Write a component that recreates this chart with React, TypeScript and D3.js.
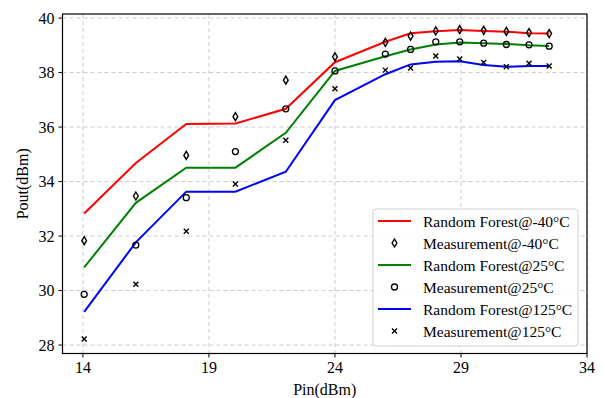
import * as d3 from 'd3';

const pin = [14.05, 16.1, 18.1, 20.05, 22.05, 24, 26, 27, 28, 28.95, 29.9, 30.8, 31.7, 32.5];

const rfM40 = [32.83, 34.68, 36.11, 36.13, 36.67, 38.38, 39.13, 39.44, 39.52, 39.56, 39.53, 39.5, 39.44, 39.43];
const rf25 = [30.85, 33.22, 34.51, 34.51, 35.79, 38.06, 38.6, 38.85, 39.03, 39.1, 39.08, 39.05, 39.0, 38.98];
const rf125 = [29.22, 31.77, 33.63, 33.63, 34.36, 36.99, 37.94, 38.3, 38.4, 38.42, 38.28, 38.21, 38.24, 38.24];

const measM40 = [31.83, 33.47, 34.96, 36.38, 37.72, 38.58, 39.11, 39.34, 39.53, 39.58, 39.55, 39.51, 39.47, 39.43];
const meas25 = [29.86, 31.67, 33.41, 35.1, 36.67, 38.06, 38.68, 38.85, 39.13, 39.13, 39.08, 39.03, 39.02, 38.97];
const meas125 = [28.22, 30.23, 32.18, 33.91, 35.52, 37.41, 38.09, 38.17, 38.61, 38.5, 38.37, 38.21, 38.34, 38.24];

const xTicks = [14, 19, 24, 29, 34];
const yTicks = [28, 30, 32, 34, 36, 38, 40];

const legendLabels = [
  'Random Forest@-40\u00B0C',
  'Measurement@-40\u00B0C',
  'Random Forest@25\u00B0C',
  'Measurement@25\u00B0C',
  'Random Forest@125\u00B0C',
  'Measurement@125\u00B0C',
];

const font = '"Liberation Serif", "Times New Roman", serif';

function Marker({ kind, x, y }: { kind: string; x: number; y: number }) {
  if (kind === 'diamond') {
    return (
      <path
        d={`M${x},${y - 4}L${x + 2.4},${y}L${x},${y + 4}L${x - 2.4},${y}Z`}
        fill="none"
        stroke="#000"
        strokeWidth={1.4}
      />
    );
  }
  if (kind === 'circle') {
    return <circle cx={x} cy={y} r={3} fill="none" stroke="#000" strokeWidth={1.3} />;
  }
  return (
    <path
      d={`M${x - 2.5},${y - 2.5}L${x + 2.5},${y + 2.5}M${x - 2.5},${y + 2.5}L${x + 2.5},${y - 2.5}`}
      stroke="#000"
      strokeWidth={1.4}
    />
  );
}

export default function App() {
  const width = 604;
  const height = 398;
  const left = 62.5;
  const right = 587;
  const top = 14;
  const bottom = 353.5;

  const x = d3.scaleLinear().domain([13.19, 34]).range([left, right]);
  const y = d3.scaleLinear().domain([27.69, 40.15]).range([bottom, top]);

  const line = d3
    .line<number>()
    .x((_, i) => x(pin[i]))
    .y((d) => y(d));

  const lines = [
    { vals: rfM40, color: '#ff0000' },
    { vals: rf25, color: '#008000' },
    { vals: rf125, color: '#0000ff' },
  ];
  const meas = [
    { vals: measM40, kind: 'diamond' },
    { vals: meas25, kind: 'circle' },
    { vals: meas125, kind: 'x' },
  ];

  const legendX = 373;
  const legendY = 209;
  const legendW = 205;
  const legendH = 137;
  const rowH = 22;

  return (
    <svg
      width={width}
      height={height}
      style={{ position: 'absolute', left: 0, top: 0, background: '#fff' }}
      fontFamily={font}
    >
      <rect x={0} y={0} width={width} height={height} fill="#fff" />

      {/* grid */}
      {xTicks.map((t) => (
        <line
          key={'gx' + t}
          x1={x(t)}
          x2={x(t)}
          y1={top}
          y2={bottom}
          stroke="#cccccc"
          strokeWidth={1}
          strokeDasharray="4,3"
        />
      ))}
      {yTicks.map((t) => (
        <line
          key={'gy' + t}
          x1={left}
          x2={right}
          y1={y(t)}
          y2={y(t)}
          stroke="#cccccc"
          strokeWidth={1}
          strokeDasharray="4,3"
        />
      ))}

      {/* lines */}
      {lines.map((l, i) => (
        <path key={'l' + i} d={line(l.vals) || ''} fill="none" stroke={l.color} strokeWidth={2} />
      ))}

      {/* measurement markers */}
      {meas.map((m, i) => (
        <g key={'m' + i}>
          {m.vals.map((v, j) => (
            <Marker key={j} kind={m.kind} x={x(pin[j])} y={y(v)} />
          ))}
        </g>
      ))}

      {/* frame */}
      <rect
        x={left}
        y={top}
        width={right - left}
        height={bottom - top}
        fill="none"
        stroke="#000"
        strokeWidth={1.2}
      />

      {/* x axis */}
      {xTicks.map((t) => (
        <g key={'xt' + t}>
          <line x1={x(t)} x2={x(t)} y1={bottom} y2={bottom + 4} stroke="#000" />
          <text x={x(t)} y={bottom + 19} textAnchor="middle" fontSize={16} fill="#000">
            {t}
          </text>
        </g>
      ))}
      <text x={(left + right) / 2} y={395} textAnchor="middle" fontSize={16} fill="#000">
        Pin(dBm)
      </text>

      {/* y axis */}
      {yTicks.map((t) => (
        <g key={'yt' + t}>
          <line x1={left - 4} x2={left} y1={y(t)} y2={y(t)} stroke="#000" />
          <text
            x={left - 8}
            y={y(t)}
            textAnchor="end"
            dominantBaseline="central"
            fontSize={16}
            fill="#000"
          >
            {t}
          </text>
        </g>
      ))}
      <text
        transform={`translate(22,${(top + bottom) / 2}) rotate(-90)`}
        textAnchor="middle"
        dominantBaseline="central"
        fontSize={16}
        fill="#000"
      >
        Pout(dBm)
      </text>

      {/* legend */}
      <rect
        x={legendX}
        y={legendY}
        width={legendW}
        height={legendH}
        rx={3}
        fill="#fff"
        fillOpacity={0.85}
        stroke="#d0d0d0"
        strokeWidth={1}
      />
      {legendLabels.map((lab, i) => {
        const cy = legendY + 12 + i * rowH;
        return (
          <g key={'lg' + i}>
            {i % 2 === 0 ? (
              <line x1={378} x2={411} y1={cy} y2={cy} stroke={lines[i / 2].color} strokeWidth={2} />
            ) : (
              <Marker kind={meas[(i - 1) / 2].kind} x={394.5} y={cy} />
            )}
            <text x={423} y={cy} dominantBaseline="central" fontSize={15.5} fill="#000">
              {lab}
            </text>
          </g>
        );
      })}
    </svg>
  );
}
